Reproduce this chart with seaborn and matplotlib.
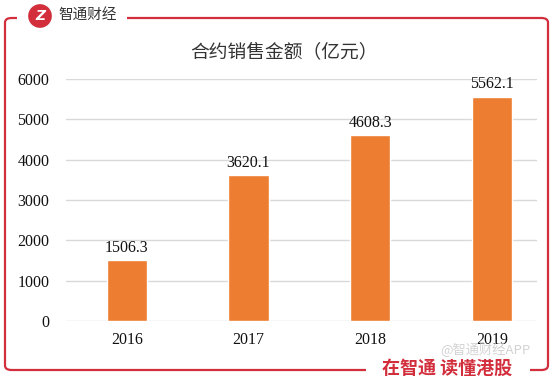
import matplotlib
matplotlib.use("Agg")
import matplotlib.pyplot as plt
import seaborn as sns
import pandas as pd
from matplotlib.patches import FancyBboxPatch, Rectangle

# data
years = ["2016", "2017", "2018", "2019"]
sales = [1506.3, 3620.1, 4608.3, 5562.1]
yticks = [0, 1000, 2000, 3000, 4000, 5000, 6000]

df = pd.DataFrame({"year": years, "sales": sales})

sns.set_style("white")
plt.rcParams["font.family"] = ["Noto Sans CJK SC", "DejaVu Sans"]

W, H = 554, 381
fig = plt.figure(figsize=(W / 100, H / 100), dpi=100)

def fx(px):
    return px / W

def fy(py):
    return 1 - py / H

red = "#D22E3C"

# red frame with rounded corners
frame = FancyBboxPatch((fx(5), fy(370)), fx(548) - fx(5), fy(18) - fy(370),
                       boxstyle="round,pad=0,rounding_size=0.012",
                       transform=fig.transFigure, fill=False,
                       edgecolor=red, linewidth=1.6, zorder=1)
fig.patches.append(frame)
# gaps for the logo and the slogan
fig.patches.append(Rectangle((fx(17), fy(28)), fx(127) - fx(17), fy(6) - fy(28),
                             transform=fig.transFigure, facecolor="white",
                             edgecolor="none", zorder=2))
fig.patches.append(Rectangle((fx(366), fy(379)), fx(530) - fx(366), fy(360) - fy(379),
                             transform=fig.transFigure, facecolor="white",
                             edgecolor="none", zorder=2))

# logo
fig.text(fx(40), fy(16), "Z", color="white", fontsize=10, fontweight="bold",
         fontstyle="italic", ha="center", va="center", family="DejaVu Sans",
         bbox=dict(boxstyle="circle,pad=0.35", facecolor=red, edgecolor="none"),
         zorder=4)
fig.text(fx(58), fy(16), "智通财经", color="#333333", fontsize=10.5,
         ha="left", va="center", zorder=4)

# slogan and watermark
fig.text(fx(382), fy(368), "在智通 读懂港股", color=red, fontsize=13,
         fontweight="bold", ha="left", va="center", zorder=4)
fig.text(fx(440), fy(350), "@智通财经APP", color="#C8C8C8", fontsize=9.5,
         ha="left", va="center", alpha=0.8, zorder=5)

# title
fig.text(fx(284), fy(52), "合约销售金额（亿元）", color="#333333", fontsize=13.5,
         ha="center", va="center")

# chart
ax = fig.add_axes([fx(66), fy(321), fx(537) - fx(66), fy(79) - fy(321)])
sns.barplot(data=df, x="year", y="sales", color="#ED7D31", width=0.33,
            saturation=1, ax=ax, zorder=3)
ax.set_xlim(-0.5, 3.37)
ax.set_ylim(0, 6000)
ax.set_yticks(yticks)
ax.yaxis.grid(True, color="#D9D9D9", linewidth=1, zorder=0)
ax.set_axisbelow(True)
for s in ax.spines.values():
    s.set_visible(False)
ax.tick_params(length=0)
ax.tick_params(axis="y", pad=12)
ax.tick_params(axis="x", pad=8)
ax.set_xlabel("")
ax.set_ylabel("")
for lbl in ax.get_xticklabels() + ax.get_yticklabels():
    lbl.set_family("Liberation Serif")
    lbl.set_fontsize(11.5)
    lbl.set_color("#111111")

for i, v in enumerate(sales):
    ax.text(i, v + 110, f"{v:.1f}", ha="center", va="bottom",
            family="Liberation Serif", fontsize=11.5, color="#111111")

fig.savefig("out.png", dpi=100)
